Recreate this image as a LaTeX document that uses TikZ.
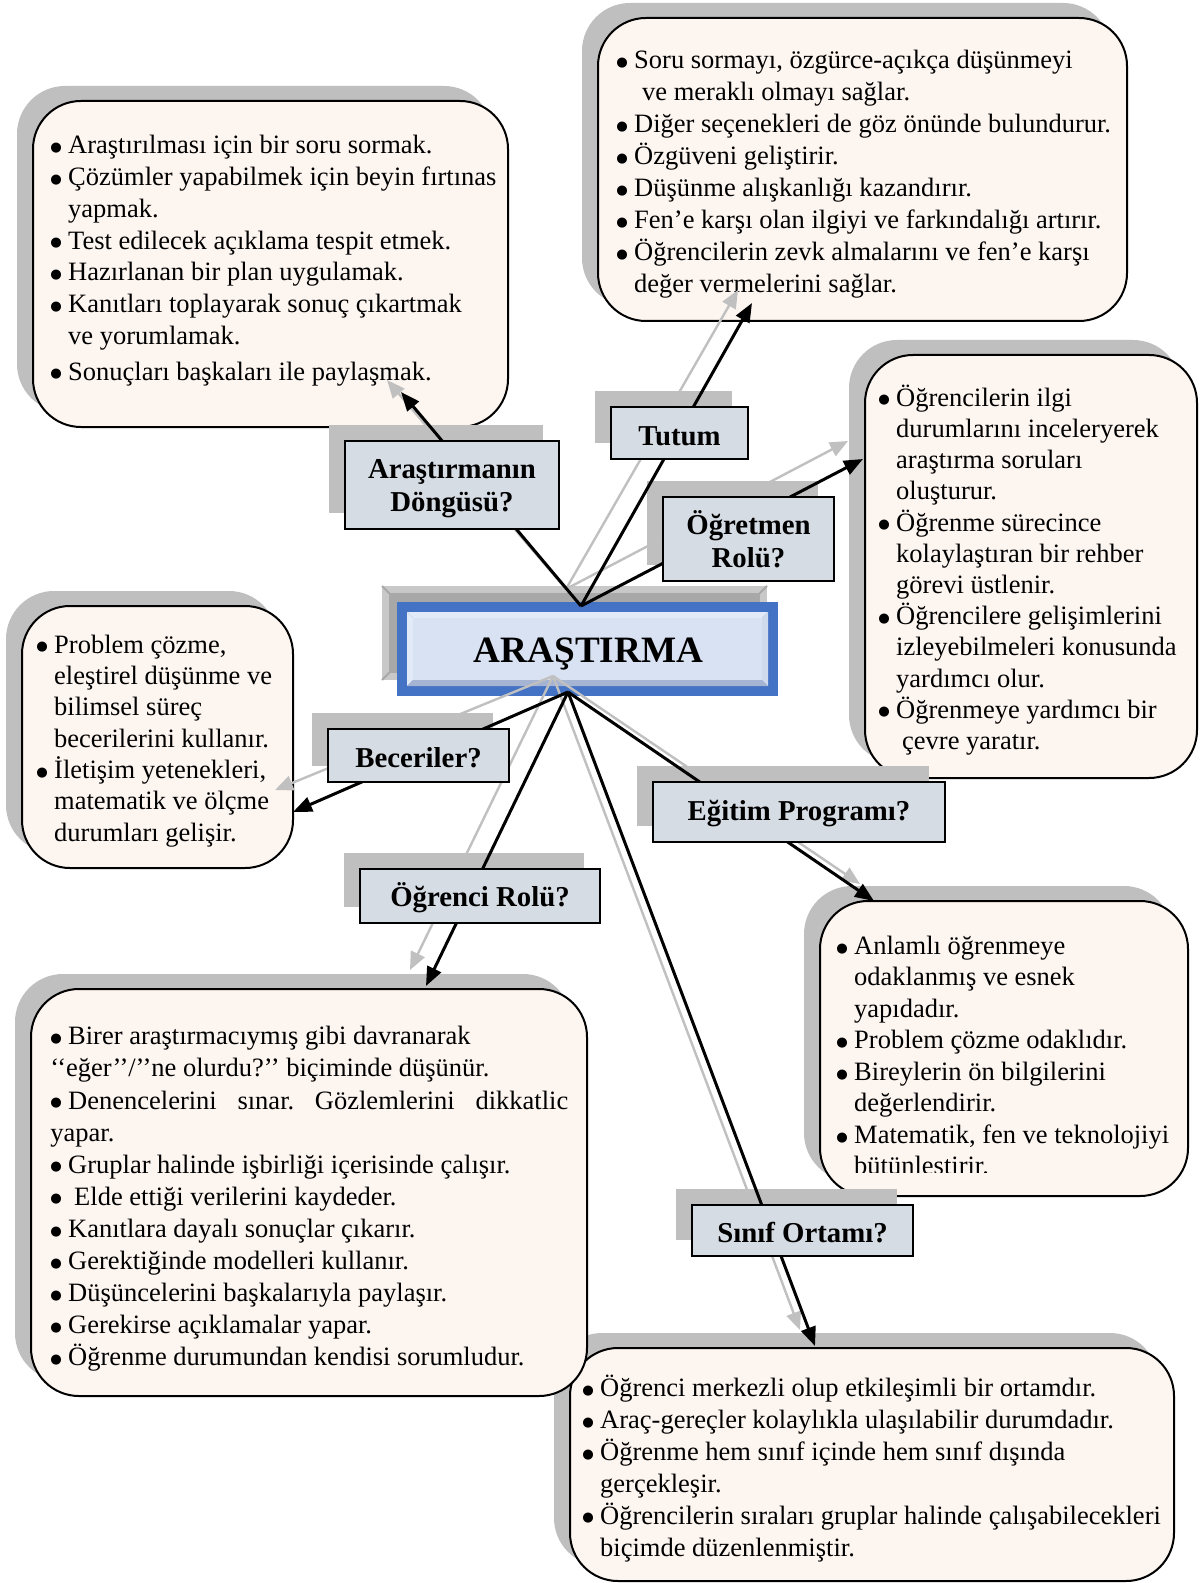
\documentclass[tikz,border=0pt]{standalone}
\usepackage{fontspec}
\setmainfont{Liberation Serif}
\newfontfamily\dotfont{DejaVu Sans}
\usetikzlibrary{arrows.meta}

\definecolor{cardfill}{RGB}{253,245,240}
\definecolor{shade}{RGB}{191,191,191}
\definecolor{tagfill}{RGB}{214,220,228}
\definecolor{frameblue}{RGB}{68,114,196}
\definecolor{facefill}{RGB}{217,226,243}
\definecolor{bevlight}{RGB}{226,234,248}
\definecolor{bevdark}{RGB}{165,180,210}
\definecolor{linegray}{RGB}{192,192,192}
\definecolor{shadelight}{RGB}{200,200,200}
\definecolor{shadedark}{RGB}{168,168,168}

% round bullet in a fixed-width slot
\newcommand{\bul}{\makebox[8.9pt][l]{\raisebox{1.2pt}{\dotfont\fontsize{6.6}{7}\selectfont ●}}}
\frenchspacing

\tikzset{
  card/.style={draw=black, line width=1pt, fill=cardfill, rounded corners=24pt},
  cardshadow/.style={fill=shade, rounded corners=24pt},
  tag/.style={draw=black, line width=1pt, fill=tagfill, inner sep=0pt,
    font=\fontsize{14.4}{16.5}\selectfont\bfseries, align=center},
  tagshadow/.style={fill=shade},
  blackarrow/.style={draw=black, line width=1.5pt, -{Triangle[length=9.5pt,width=7.5pt]}},
  grayarrow/.style={draw=linegray, line width=1.2pt, -{Triangle[length=9pt,width=7.5pt]}},
  itemtext/.style={anchor=north west, inner sep=0pt},
}

\begin{document}
\begin{tikzpicture}[x=0.5pt,y=-0.5pt]
\useasboundingbox (0,0) rectangle (1201,1583);
\fill[white] (0,0) rectangle (1201,1583);

% ---------- shadows of the text cards ----------
\fill[cardshadow] (17,86) rectangle (492,412);
\fill[cardshadow] (582,3) rectangle (1111,306);
\fill[cardshadow] (849,340) rectangle (1181,763);
\fill[cardshadow] (6,591) rectangle (277,853);
\fill[cardshadow] (804,886) rectangle (1172,1181);
\fill[cardshadow] (15,974) rectangle (571,1381);
\fill[cardshadow] (554,1333) rectangle (1158,1566);

% ---------- text cards ----------
\draw[card] (570,1348) rectangle (1174,1581);
\path (872,1464) node (cardSinif) {};
\draw[card] (33,101) rectangle (508,427);
\path (270,264) node (cardDongu) {};
\draw[card] (598,18) rectangle (1127,321);
\path (862,170) node (cardTutum) {};
\draw[card] (865,355) rectangle (1197,778);
\path (1031,566) node (cardOgretmen) {};
\draw[card] (22,606) rectangle (293,868);
\path (157,737) node (cardBeceri) {};
\draw[card] (820,901) rectangle (1188,1196);
\path (1004,1048) node (cardEgitim) {};
\draw[card] (31,989) rectangle (587,1396);
\path (309,1192) node (cardOgrenci) {};

% card texts
\node[itemtext, font=\fontsize{13.25}{15.9}\selectfont] (txtDongu) at (50,131) {%
\begin{tabular}{@{}l@{}l@{}}
\bul & Araştırılması için bir soru sormak.\\
\bul & Çözümler yapabilmek için beyin fırtınas\\
 & yapmak.\\
\bul & Test edilecek açıklama tespit etmek.\\
\bul & Hazırlanan bir plan uygulamak.\\
\bul & Kanıtları toplayarak sonuç çıkartmak\\
 & ve yorumlamak.\\[2pt]
\bul & Sonuçları başkaları ile paylaşmak.
\end{tabular}};

\node[itemtext, font=\fontsize{13.25}{16}\selectfont] (txtTutum) at (616,46) {%
\begin{tabular}{@{}l@{}l@{}}
\bul & Soru sormayı, özgürce-açıkça düşünmeyi\\
 & \hspace{4pt}ve meraklı olmayı sağlar.\\
\bul & Diğer seçenekleri de göz önünde bulundurur.\\
\bul & Özgüveni geliştirir.\\
\bul & Düşünme alışkanlığı kazandırır.\\
\bul & Fen’e karşı olan ilgiyi ve farkındalığı artırır.\\
\bul & Öğrencilerin zevk almalarını ve fen’e karşı\\
 & değer vermelerini sağlar.
\end{tabular}};

\node[itemtext, font=\fontsize{13.25}{15.6}\selectfont] (txtOgretmen) at (878,384) {%
\begin{tabular}{@{}l@{}l@{}}
\bul & Öğrencilerin ilgi\\
 & durumlarını inceleryerek\\
 & araştırma soruları\\
 & oluşturur.\\
\bul & Öğrenme sürecince\\
 & kolaylaştıran bir rehber\\
 & görevi üstlenir.\\
\bul & Öğrencilere gelişimlerini\\
 & izleyebilmeleri konusunda\\
 & yardımcı olur.\\
\bul & Öğrenmeye yardımcı bir\\
 & \hspace{3pt}çevre yaratır.
\end{tabular}};

\node[itemtext, font=\fontsize{13.25}{15.65}\selectfont] (txtBeceri) at (36,631) {%
\begin{tabular}{@{}l@{}l@{}}
\bul & Problem çözme,\\
 & eleştirel düşünme ve\\
 & bilimsel süreç\\
 & becerilerini kullanır.\\
\bul & İletişim yetenekleri,\\
 & matematik ve ölçme\\
 & durumları gelişir.
\end{tabular}};

\begin{scope}
\clip (820,901) rectangle (1188,1172);
\node[itemtext, font=\fontsize{13.25}{15.75}\selectfont] (txtEgitim) at (836,932) {%
\begin{tabular}{@{}l@{}l@{}}
\bul & Anlamlı öğrenmeye\\
 & odaklanmış ve esnek\\
 & yapıdadır.\\
\bul & Problem çözme odaklıdır.\\
\bul & Bireylerin ön bilgilerini\\
 & değerlendirir.\\
\bul & Matematik, fen ve teknolojiyi\\
 & bütünlestirir.
\end{tabular}};
\end{scope}

\node[itemtext, font=\fontsize{13.25}{16.05}\selectfont] (txtOgrenci) at (50,1022) {%
\begin{tabular}{@{}l@{}l@{}}
\bul & Birer araştırmacıymış gibi davranarak\\
\multicolumn{2}{@{}l@{}}{‘‘eğer’’/’’ne olurdu?’’ biçiminde düşünür.}\\
\bul & \makebox[250pt][s]{Denencelerini sınar. Gözlemlerini dikkatlic}\\
\multicolumn{2}{@{}l@{}}{yapar.}\\
\bul & Gruplar halinde işbirliği içerisinde çalışır.\\
\bul & \hspace{3pt}Elde ettiği verilerini kaydeder.\\
\bul & Kanıtlara dayalı sonuçlar çıkarır.\\
\bul & Gerektiğinde modelleri kullanır.\\
\bul & Düşüncelerini başkalarıyla paylaşır.\\
\bul & Gerekirse açıklamalar yapar.\\
\bul & Öğrenme durumundan kendisi sorumludur.
\end{tabular}};

\node[itemtext, font=\fontsize{13.25}{15.95}\selectfont] (txtSinif) at (582,1374) {%
\begin{tabular}{@{}l@{}l@{}}
\bul & Öğrenci merkezli olup etkileşimli bir ortamdır.\\
\bul & Araç-gereçler kolaylıkla ulaşılabilir durumdadır.\\
\bul & Öğrenme hem sınıf içinde hem sınıf dışında\\
 & gerçekleşir.\\
\bul & Öğrencilerin sıraları gruplar halinde çalışabilecekleri\\
 & biçimde düzenlenmiştir.
\end{tabular}};

% ---------- central bevelled frame ----------
\fill[shadelight] (382,586) rectangle (767,680);
\fill[shadedark] (389,593) rectangle (760,673);
\draw[shadedark, line width=1pt] (382,586) -- (392,596) (767,586) -- (757,596) (382,680) -- (392,670);
\fill[frameblue] (397,602) rectangle (778,696);
\fill[bevlight] (407,612) -- (768,612) -- (762,618) -- (413,618) -- cycle;
\fill[bevlight] (407,612) -- (413,618) -- (413,680) -- (407,686) -- cycle;
\fill[bevdark] (407,686) -- (413,680) -- (762,680) -- (768,686) -- cycle;
\fill[bevlight!70!bevdark] (768,612) -- (762,618) -- (762,680) -- (768,686) -- cycle;
\fill[facefill] (413,618) rectangle (762,680);
\node[inner sep=0pt, anchor=base, font=\fontsize{18.6}{20}\selectfont\bfseries] (core) at (588.5,662) {ARAŞTIRMA};

% hubs on the frame and arrow ends inside the cards
\coordinate (hubTop) at (581,606);
\coordinate (hubTopG) at (566,589);
\coordinate (hubBot) at (568,692);
\coordinate (hubBotG) at (553,676);
\coordinate (endDongu) at (401,392);   \coordinate (endDonguG) at (387,380);
\coordinate (endTutum) at (752,303);   \coordinate (endTutumG) at (738,290);
\coordinate (endOgretmen) at (863,459); \coordinate (endOgretmenG) at (848,441);
\coordinate (endBeceri) at (293,812);  \coordinate (endBeceriG) at (275,790);
\coordinate (endEgitim) at (874,901);  \coordinate (endEgitimG) at (860,884);
\coordinate (endOgrenci) at (426,986); \coordinate (endOgrenciG) at (410,970);
\coordinate (endSinif) at (815,1346);  \coordinate (endSinifG) at (800,1330);

% ---------- shadows of the question tags ----------
\fill[tagshadow] (329,425) rectangle (543,513);
\fill[tagshadow] (595,391) rectangle (732,443);
\fill[tagshadow] (647,481) rectangle (818,565);
\fill[tagshadow] (312,713) rectangle (493,766);
\fill[tagshadow] (637,766) rectangle (929,826);
\fill[tagshadow] (344,853) rectangle (584,907);
\fill[tagshadow] (676,1189) rectangle (897,1240);

% ---------- connector shadows ----------
\draw[grayarrow] (hubTopG) -- (endDonguG);
\draw[grayarrow] (hubTopG) -- (endTutumG);
\draw[grayarrow] (hubTopG) -- (endOgretmenG);
\draw[grayarrow] (hubBotG) -- (endBeceriG);
\draw[grayarrow] (hubBotG) -- (endEgitimG);
\draw[grayarrow] (hubBotG) -- (endOgrenciG);
\draw[grayarrow] (hubBotG) -- (endSinifG);

% ---------- connectors ----------
\draw[blackarrow] (hubTop) -- (endDongu);
\draw[blackarrow] (hubTop) -- (endTutum);
\draw[blackarrow] (hubTop) -- (endOgretmen);
\draw[blackarrow] (hubBot) -- (endBeceri);
\draw[blackarrow] (hubBot) -- (endEgitim);
\draw[blackarrow] (hubBot) -- (endOgrenci);
\draw[blackarrow] (hubBot) -- (endSinif);

% ---------- question tags ----------
\node[tag, minimum width=107pt, minimum height=44pt, text depth=0pt] (tagDongu) at (452,485) {Araştırmanın\\Döngüsü?};
\node[tag, minimum width=68.5pt, minimum height=26pt, text height=12pt, text depth=0pt] (tagTutum) at (679.5,433) {Tutum};
\node[tag, minimum width=85.5pt, minimum height=42pt] (tagOgretmen) at (748.5,539) {Öğretmen\\Rolü?};
\node[tag, minimum width=90.5pt, minimum height=26.5pt, text height=11.5pt, text depth=0pt] (tagBeceri) at (418.5,755.5) {Beceriler?};
\node[tag, minimum width=146pt, minimum height=30pt, text height=8.5pt, text depth=0pt] (tagEgitim) at (799,812) {Eğitim Programı?};
\node[tag, minimum width=120pt, minimum height=27pt, text height=10pt, text depth=0pt] (tagOgrenci) at (480,896) {Öğrenci Rolü?};
\node[tag, minimum width=110.5pt, minimum height=25.5pt, text height=12pt, text depth=0pt] (tagSinif) at (802.5,1230.5) {Sınıf Ortamı?};

\end{tikzpicture}
\end{document}
